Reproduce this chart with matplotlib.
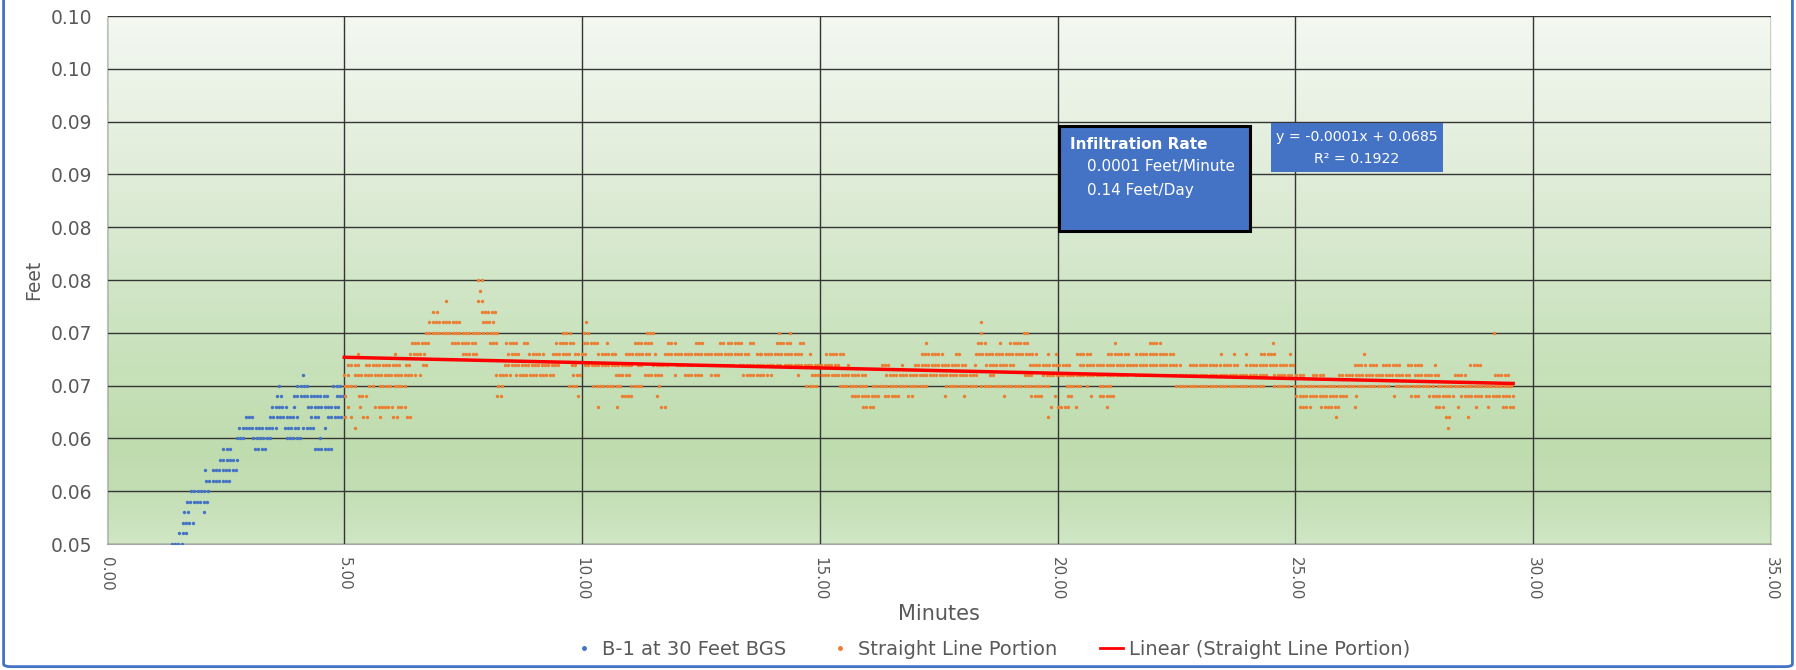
"""
plot.py - infiltration test B-1 at 30 ft BGS, water level vs. time
"""
import numpy as np
import matplotlib
matplotlib.use("Agg")
import matplotlib.pyplot as plt
from matplotlib.patches import Rectangle, FancyBboxPatch
from matplotlib.lines import Line2D
from matplotlib.colors import LinearSegmentedColormap

plt.rcParams["font.family"] = ["DejaVu Sans"]

# ─── Data ──────────────────────────────────────────────────────────────────
# logger reading interval, minutes
SAMPLE_MIN = 0.07

# runs of constant reading: (feet, start minute, end minute)
blue_runs = [
    (0.050, 1.37, 1.62), (0.051, 1.53, 1.69), (0.052, 1.60, 1.81),
    (0.053, 1.64, 1.76), (0.053, 2.05, 2.05), (0.054, 1.69, 2.11),
    (0.055, 1.78, 2.15), (0.056, 2.09, 2.58), (0.057, 2.07, 2.07),
    (0.057, 2.23, 2.72), (0.058, 2.39, 2.76), (0.059, 2.46, 2.65),
    (0.059, 3.12, 3.35), (0.059, 4.38, 4.78), (0.060, 2.74, 2.88),
    (0.060, 3.09, 3.44), (0.060, 3.79, 4.10), (0.060, 4.49, 4.49),
    (0.061, 2.79, 3.58), (0.061, 3.75, 4.03), (0.061, 4.14, 4.35),
    (0.061, 4.59, 4.59), (0.062, 2.93, 3.09), (0.062, 3.44, 4.03),
    (0.062, 4.31, 4.49), (0.062, 4.66, 4.98), (0.063, 3.49, 3.79),
    (0.063, 3.94, 3.94), (0.063, 4.24, 4.87), (0.064, 3.59, 3.72),
    (0.064, 3.94, 4.66), (0.064, 4.84, 4.98), (0.065, 3.63, 3.63),
    (0.065, 4.01, 4.28), (0.065, 4.77, 4.94), (0.066, 4.14, 4.14),
]

orange_runs = [
    (0.075, 7.82, 7.91), (0.074, 7.85, 7.85),
    (0.073, 7.14, 7.14), (0.073, 7.82, 7.92),
    (0.072, 6.87, 7.00), (0.072, 7.89, 8.19),
    (0.071, 6.79, 7.42), (0.071, 7.91, 8.12), (0.071, 10.09, 10.09),
    (0.071, 18.40, 18.40),
    (0.070, 6.72, 7.56), (0.070, 7.63, 7.94), (0.070, 8.01, 8.22),
    (0.070, 9.60, 9.74), (0.070, 10.05, 10.18), (0.070, 11.36, 11.53),
    (0.070, 14.14, 14.14), (0.070, 14.37, 14.37), (0.070, 18.40, 18.40),
    (0.070, 19.29, 19.38), (0.070, 29.18, 29.18),
    (0.069, 6.42, 6.82), (0.069, 7.26, 7.78), (0.069, 8.06, 8.24),
    (0.069, 8.41, 8.68), (0.069, 8.78, 8.87), (0.069, 9.46, 9.85),
    (0.069, 10.04, 10.38), (0.069, 10.52, 10.52), (0.069, 11.11, 11.50),
    (0.069, 11.81, 11.95), (0.069, 12.39, 12.55), (0.069, 12.90, 12.97),
    (0.069, 13.07, 13.35), (0.069, 13.53, 13.60), (0.069, 14.09, 14.37),
    (0.069, 14.58, 14.65), (0.069, 17.24, 17.24), (0.069, 18.33, 18.49),
    (0.069, 18.78, 18.78), (0.069, 19.01, 19.41), (0.069, 21.20, 21.20),
    (0.069, 21.94, 22.18), (0.069, 24.53, 24.53),
    (0.068, 5.29, 5.29), (0.068, 6.06, 6.06), (0.068, 6.39, 6.73),
    (0.068, 7.49, 7.78), (0.068, 8.45, 8.66), (0.068, 8.89, 9.18),
    (0.068, 9.38, 9.74), (0.068, 9.85, 10.09), (0.068, 10.34, 10.73),
    (0.068, 10.92, 11.46), (0.068, 11.53, 11.53), (0.068, 11.74, 13.53),
    (0.068, 13.67, 13.74), (0.068, 13.77, 14.61), (0.068, 14.79, 14.79),
    (0.068, 15.14, 15.53), (0.068, 17.14, 17.59), (0.068, 17.86, 17.94),
    (0.068, 18.28, 19.48), (0.068, 19.55, 19.55), (0.068, 19.80, 19.80),
    (0.068, 19.97, 19.97), (0.068, 20.40, 20.71), (0.068, 21.06, 21.52),
    (0.068, 21.66, 22.43), (0.068, 23.44, 23.44), (0.068, 23.72, 23.72),
    (0.068, 23.97, 23.97), (0.068, 24.28, 24.60), (0.068, 24.88, 24.88),
    (0.068, 26.44, 26.44),
    (0.067, 5.08, 5.33), (0.067, 5.46, 6.17), (0.067, 6.30, 6.38),
    (0.067, 6.65, 6.72), (0.067, 8.38, 9.50), (0.067, 9.78, 9.88),
    (0.067, 10.06, 11.08), (0.067, 11.18, 11.30), (0.067, 11.50, 11.78),
    (0.067, 11.99, 13.18), (0.067, 13.32, 14.16), (0.067, 14.26, 15.42),
    (0.067, 15.60, 15.60), (0.067, 16.30, 16.44), (0.067, 16.72, 16.75),
    (0.067, 17.00, 18.08), (0.067, 18.26, 18.26), (0.067, 18.50, 19.06),
    (0.067, 19.41, 20.26), (0.067, 20.47, 22.60), (0.067, 22.78, 23.41),
    (0.067, 23.49, 23.79), (0.067, 23.97, 24.95), (0.067, 26.25, 26.46),
    (0.067, 26.56, 26.74), (0.067, 26.84, 27.23), (0.067, 27.37, 27.65),
    (0.067, 27.93, 27.93), (0.067, 28.68, 28.91),
    (0.066, 5.00, 5.12), (0.066, 5.22, 6.52), (0.066, 6.59, 6.59),
    (0.066, 8.20, 8.48), (0.066, 8.62, 9.39), (0.066, 9.82, 10.02),
    (0.066, 10.71, 11.04), (0.066, 11.32, 11.71), (0.066, 11.95, 11.95),
    (0.066, 12.16, 12.55), (0.066, 12.72, 12.86), (0.066, 13.39, 13.88),
    (0.066, 13.98, 13.98), (0.066, 14.54, 14.54), (0.066, 14.83, 15.98),
    (0.066, 16.40, 18.33), (0.066, 18.57, 18.64), (0.066, 19.31, 19.48),
    (0.066, 19.70, 21.45), (0.066, 21.66, 22.01), (0.066, 22.22, 24.39),
    (0.066, 24.56, 24.95), (0.066, 25.02, 25.20), (0.066, 25.37, 25.58),
    (0.066, 25.92, 27.40), (0.066, 27.51, 28.00), (0.066, 28.35, 28.59),
    (0.066, 29.19, 29.50),
    (0.065, 5.01, 5.26), (0.065, 5.53, 5.61), (0.065, 5.75, 5.96),
    (0.065, 6.06, 6.31), (0.065, 8.24, 8.34), (0.065, 9.73, 9.87),
    (0.065, 10.24, 10.83), (0.065, 11.04, 11.29), (0.065, 11.62, 11.62),
    (0.065, 14.72, 14.93), (0.065, 15.42, 15.98), (0.065, 16.12, 17.24),
    (0.065, 17.66, 18.29), (0.065, 18.40, 19.80), (0.065, 20.19, 20.47),
    (0.065, 20.61, 20.61), (0.065, 20.89, 21.13), (0.065, 22.50, 24.32),
    (0.065, 24.56, 24.88), (0.065, 24.98, 26.98), (0.065, 27.12, 27.93),
    (0.065, 28.00, 28.21), (0.065, 28.28, 29.58),
    (0.064, 5.02, 5.02), (0.064, 5.31, 5.47), (0.064, 8.22, 8.34),
    (0.064, 9.92, 9.92), (0.064, 10.83, 11.04), (0.064, 11.57, 11.57),
    (0.064, 15.67, 16.26), (0.064, 16.37, 16.68), (0.064, 16.86, 16.96),
    (0.064, 17.63, 17.63), (0.064, 18.03, 18.03), (0.064, 18.87, 18.87),
    (0.064, 19.45, 19.70), (0.064, 19.94, 19.94), (0.064, 20.22, 20.29),
    (0.064, 20.71, 20.71), (0.064, 20.89, 21.17), (0.064, 25.02, 26.07),
    (0.064, 26.28, 26.28), (0.064, 27.07, 27.07), (0.064, 27.44, 27.61),
    (0.064, 27.82, 28.31), (0.064, 28.49, 28.91), (0.064, 29.01, 29.58),
    (0.063, 5.08, 5.08), (0.063, 5.33, 5.33), (0.063, 5.65, 6.00),
    (0.063, 6.13, 6.28), (0.063, 10.34, 10.34), (0.063, 10.73, 10.73),
    (0.063, 11.67, 11.78), (0.063, 15.91, 16.12), (0.063, 19.87, 19.87),
    (0.063, 20.01, 20.22), (0.063, 20.38, 20.38), (0.063, 21.03, 21.03),
    (0.063, 25.09, 25.30), (0.063, 25.55, 25.93), (0.063, 26.25, 26.25),
    (0.063, 27.96, 28.10), (0.063, 28.42, 28.42), (0.063, 28.80, 28.80),
    (0.063, 29.05, 29.05), (0.063, 29.37, 29.58),
    (0.062, 5.02, 5.02), (0.062, 5.15, 5.15), (0.062, 5.40, 5.50),
    (0.062, 5.75, 5.75), (0.062, 6.03, 6.11), (0.062, 6.31, 6.38),
    (0.062, 19.80, 19.80), (0.062, 25.86, 25.86), (0.062, 28.17, 28.28),
    (0.062, 28.63, 28.63),
    (0.061, 5.22, 5.22), (0.061, 28.21, 28.21),
]

y_ticks = [0.050, 0.055, 0.060, 0.065, 0.070, 0.075, 0.080, 0.085, 0.090, 0.095, 0.100]
# Excel shows these rounded to two decimals
y_tick_labels = ["0.05", "0.06", "0.06", "0.07", "0.07", "0.08", "0.08",
                 "0.09", "0.09", "0.10", "0.10"]
x_ticks = [0, 5, 10, 15, 20, 25, 30, 35]

info_lines = ["Infiltration Rate", "0.0001 Feet/Minute", "0.14 Feet/Day"]
eq_lines = ["y = -0.0001x + 0.0685", "R² = 0.1922"]

BLUE = "#4472C4"
ORANGE = "#ED7D31"
GREY = "#595959"


def expand(runs):
    """Turn runs of constant reading into individual logger samples."""
    xs, ys = [], []
    for level, t0, t1 in runs:
        t = np.arange(t0, t1 + 1e-9, SAMPLE_MIN)
        if len(t) == 0:
            t = np.array([t0])
        xs.append(t)
        ys.append(np.full(len(t), level))
    return np.concatenate(xs), np.concatenate(ys)


bx, by = expand(blue_runs)
ox, oy = expand(orange_runs)

fig = plt.figure(figsize=(17.96, 6.70), dpi=100)
ax = fig.add_axes([0.0593, 0.188, 0.9267, 0.788])

# green gradient fill of the plot area (top -> bottom)
grad = LinearSegmentedColormap.from_list(
    "plotarea", [(0.0, "#f4f8f1"), (0.35, "#ddebd5"), (0.6, "#cbe3bf"),
                 (0.82, "#bfdcae"), (0.9, "#c3deb4"), (1.0, "#d0e6c5")])
ax.imshow(np.linspace(0, 1, 256).reshape(-1, 1), cmap=grad, aspect="auto",
          extent=[0, 35, 0.05, 0.10], origin="upper", zorder=0)

ax.set_xlim(0, 35)
ax.set_ylim(0.05, 0.10)
ax.set_xticks(x_ticks)
ax.set_xticklabels([f"{v:.2f}" for v in x_ticks], rotation=270)
ax.set_yticks(y_ticks)
ax.set_yticklabels(y_tick_labels)
ax.tick_params(length=0, labelcolor=GREY)
ax.tick_params(axis="y", labelsize=13.5, pad=10)
ax.tick_params(axis="x", labelsize=11, pad=9)
ax.grid(True, color="#353535", linewidth=1.0, zorder=1)
for side in ["top", "right"]:
    ax.spines[side].set_visible(False)
ax.spines["bottom"].set_color("#a6a6a6")
ax.spines["left"].set_color("#bfbfbf")
ax.spines["left"].set_linewidth(0.8)

ax.scatter(bx, by, s=6, color=BLUE, linewidths=0, zorder=3)
ax.scatter(ox, oy, s=6, color=ORANGE, linewidths=0, zorder=3)

# linear trend of the straight line portion
slope, icept = np.polyfit(ox, oy, 1)
tx = np.array([ox.min(), ox.max()])
ax.plot(tx, slope * tx + icept, color="red", linewidth=2.5, zorder=4)

ax.set_xlabel("Minutes", fontsize=15, color=GREY, labelpad=3)
ax.set_ylabel("Feet", fontsize=13.5, color=GREY, labelpad=6)

# infiltration rate box
ax.add_patch(Rectangle((20.02, 0.0796), 4.02, 0.0100, facecolor=BLUE,
                       edgecolor="black", linewidth=2.2, zorder=5))
ax.text(20.27, 0.08787, info_lines[0], color="white", fontsize=11,
        fontweight="bold", va="center", zorder=6)
ax.text(20.62, 0.08579, info_lines[1], color="white", fontsize=11, va="center", zorder=6)
ax.text(20.62, 0.08352, info_lines[2], color="white", fontsize=11, va="center", zorder=6)

# trendline equation label
ax.add_patch(Rectangle((24.48, 0.0852), 3.62, 0.0047, facecolor=BLUE,
                       edgecolor="none", zorder=5))
ax.text(26.29, 0.08853, eq_lines[0], color="white", fontsize=10.2,
        ha="center", va="center", zorder=6)
ax.text(26.29, 0.08642, eq_lines[1], color="white", fontsize=10.2,
        ha="center", va="center", zorder=6)

handles = [
    Line2D([], [], linestyle="none", marker="o", markersize=2.5, color=BLUE),
    Line2D([], [], linestyle="none", marker="o", markersize=2.5, color=ORANGE),
    Line2D([], [], color="red", linewidth=2),
]
fig.legend(handles, ["B-1 at 30 Feet BGS", "Straight Line Portion",
                     "Linear (Straight Line Portion)"],
           loc="center", bbox_to_anchor=(0.552, 0.031), ncol=3, frameon=False,
           fontsize=14, labelcolor=GREY, handlelength=1.2, handletextpad=0.3,
           columnspacing=2.2)

# outer chart border
fig.patches.append(FancyBboxPatch((0.002, 0.005), 0.996, 1.05, boxstyle="round,pad=0,rounding_size=0.004",
                                  transform=fig.transFigure, facecolor="none",
                                  edgecolor=BLUE, linewidth=2))

fig.savefig("out.png", dpi=100)
